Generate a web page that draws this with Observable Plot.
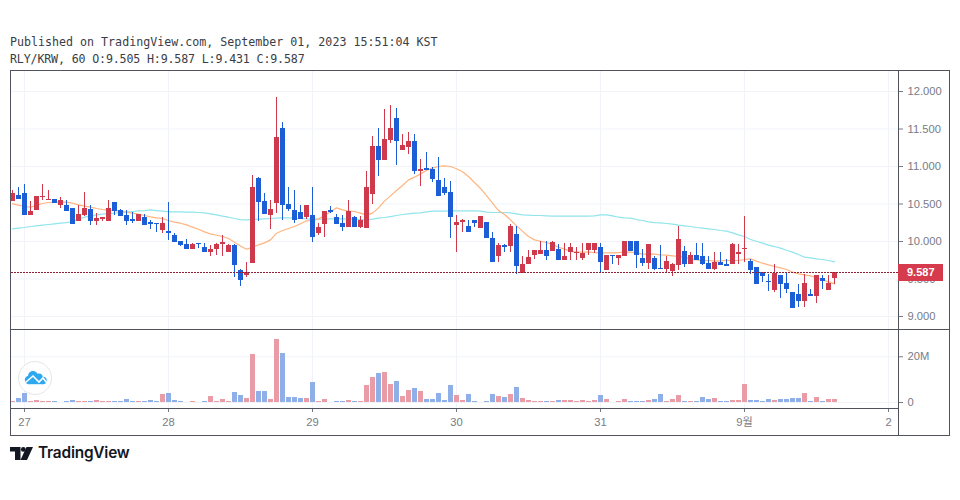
<!DOCTYPE html>
<html><head><meta charset="utf-8">
<script src="https://cdn.jsdelivr.net/npm/d3@7"></script>
<script src="https://cdn.jsdelivr.net/npm/@observablehq/plot@0.6"></script>
<style>
html,body{margin:0;padding:0;background:#fff}
#root{position:relative;width:960px;height:500px;overflow:hidden;background:#fff}
.head{position:absolute;left:10px;font:11.65px/14px "DejaVu Sans Mono",monospace;color:#3a3d45;white-space:pre}
.line{position:absolute;background:#50535e}
#tag{position:absolute;left:898px;width:36px;padding-left:9px;height:17px;background:#d63b4d;color:#fff;font:bold 11px/17px "Liberation Sans",sans-serif}
#brand{position:absolute;left:38px;top:443px;font:600 15.4px/20px Inter,sans-serif;color:#131722;letter-spacing:-.2px}
</style></head><body><div id="root"></div>
<script>
const firstHour = -2;
const opens = [
10.538,10.613,10.64,10.347,10.413,10.587,10.547,10.56,10.48,10.48,
10.44,10.267,10.347,10.427,10.267,10.293,10.267,10.52,10.413,10.347,
10.293,10.267,10.32,10.253,10.24,10.147,10.133,10.08,10.0,9.96,
9.893,9.973,9.92,9.853,9.893,9.96,9.853,9.947,9.613,9.547,
9.707,10.84,10.533,10.347,10.507,11.507,10.493,10.413,10.387,10.32,
10.347,10.107,10.227,10.413,10.32,10.24,10.187,10.32,10.187,10.173,
10.627,11.267,11.08,11.347,11.64,11.213,11.253,11.333,10.933,10.973,
10.96,10.813,10.72,10.653,10.213,10.253,10.2,10.28,10.173,10.253,
10.04,9.8,9.947,9.933,10.093,9.573,9.693,9.813,9.827,9.88,
9.867,9.893,9.747,9.853,9.84,9.773,9.88,9.88,9.92,9.613,
9.813,9.773,9.8,10.0,10.0,9.773,9.707,9.773,9.64,9.627,
9.6,9.68,9.867,9.693,9.813,9.8,9.707,9.627,9.72,9.693,
9.693,9.827,9.893,9.733,9.653,9.587,9.467,9.347,9.547,9.44,
9.32,9.293,9.2,9.293,9.267,9.507,9.347,9.505];
const highs = [
10.68,10.72,10.76,10.533,10.6,10.76,10.68,10.56,10.587,10.547,
10.44,10.48,10.653,10.48,10.373,10.32,10.547,10.52,10.427,10.413,
10.387,10.36,10.36,10.28,10.24,10.32,10.52,10.107,10.0,10.027,
9.973,9.973,9.973,9.947,9.973,10.08,9.96,9.96,9.627,9.72,
10.88,10.853,10.64,10.547,11.92,11.587,10.72,10.68,10.48,10.48,
10.72,10.24,10.4,10.467,10.36,10.347,10.547,10.333,10.333,10.933,
11.4,11.507,11.76,11.813,11.773,11.427,11.453,11.427,11.093,11.187,
10.987,11.12,10.84,10.8,10.347,10.293,10.28,10.28,10.333,10.253,
10.12,9.973,9.96,10.227,10.2,9.8,9.88,9.88,10.0,10.0,
10.0,9.96,9.973,9.973,9.92,9.973,9.973,9.973,9.973,9.813,
9.813,9.813,10.0,10.0,10.0,9.893,9.96,9.8,9.947,9.8,
9.707,10.2,9.933,9.853,9.973,9.973,9.8,9.853,9.853,9.76,
9.973,9.96,10.333,9.76,9.653,9.587,9.56,9.693,9.547,9.587,
9.32,9.427,9.56,9.36,9.547,9.547,9.547,9.587];
const lows = [
10.538,10.56,10.347,10.347,10.413,10.547,10.547,10.507,10.44,10.4,
10.227,10.267,10.333,10.213,10.213,10.267,10.267,10.347,10.333,10.213,
10.24,10.267,10.213,10.16,10.12,10.107,10.013,9.987,9.933,9.893,
9.893,9.907,9.853,9.8,9.813,9.8,9.853,9.52,9.4,9.52,
9.707,10.267,10.36,10.16,10.373,10.28,10.4,10.24,10.293,10.293,
9.987,10.08,10.053,10.373,10.227,10.133,10.187,10.187,10.173,10.173,
10.493,10.867,11.08,11.307,11.013,11.213,11.16,10.893,10.733,10.947,
10.787,10.6,10.613,10.04,9.853,10.12,10.12,10.187,10.173,10.04,
9.72,9.72,9.853,9.853,9.56,9.573,9.693,9.76,9.827,9.747,
9.867,9.747,9.747,9.747,9.747,9.747,9.813,9.84,9.573,9.613,
9.693,9.68,9.8,9.867,9.64,9.667,9.627,9.613,9.627,9.573,
9.533,9.613,9.653,9.693,9.747,9.68,9.627,9.613,9.68,9.667,
9.693,9.693,9.72,9.56,9.427,9.453,9.333,9.32,9.24,9.307,
9.107,9.12,9.12,9.267,9.173,9.36,9.347,9.431];
const closes = [
10.64,10.56,10.347,10.4,10.6,10.6,10.56,10.507,10.547,10.4,
10.227,10.36,10.44,10.267,10.307,10.32,10.44,10.4,10.333,10.267,
10.267,10.36,10.213,10.227,10.227,10.24,10.107,9.987,9.947,9.893,
9.96,9.96,9.853,9.893,9.96,9.987,9.947,9.68,9.48,9.587,
10.72,10.52,10.36,10.427,11.387,10.48,10.427,10.28,10.293,10.48,
10.053,10.187,10.4,10.387,10.227,10.187,10.4,10.187,10.28,10.72,
11.267,11.08,11.36,11.507,11.333,11.28,11.333,10.933,10.96,10.947,
10.827,10.6,10.64,10.32,10.253,10.28,10.12,10.24,10.333,10.04,
9.72,9.947,9.92,10.2,9.667,9.693,9.787,9.88,9.88,9.8,
9.987,9.747,9.8,9.92,9.853,9.84,9.973,9.973,9.72,9.813,
9.8,9.813,10.0,9.867,9.813,9.707,9.96,9.627,9.627,9.733,
9.693,10.027,9.693,9.813,9.747,9.693,9.627,9.72,9.68,9.667,
9.96,9.853,9.907,9.613,9.427,9.533,9.453,9.573,9.427,9.36,
9.107,9.2,9.44,9.267,9.547,9.467,9.44,9.587];
const volumesM = [
.44,1.75,3.9,.44,.88,.44,.44,.44,.1,.44,
.88,.44,.44,.44,.88,.44,.44,.44,.44,1.3,
.44,.44,.44,.88,.44,3.5,3.9,.88,.44,.1,
.44,.1,.44,2.6,.44,1.3,.44,4.4,3.1,1.75,
21,4.8,4.8,1.3,27.6,21.5,2.2,2.2,1.75,1.75,
8.8,.44,1.3,.1,.44,.44,.88,.44,.44,7.4,
11,12.7,13.1,7.9,9.2,2.6,5.3,6.1,4.8,1.3,
1.3,3.9,.88,7.4,3.1,.88,3.5,.44,.1,.44,
3.5,2.6,2.2,3.5,6.6,1.75,.88,.44,.44,.44,
.44,.88,.88,.88,.44,.88,.44,.88,3.1,1.3,
.1,.44,1.3,.44,.44,.44,.88,1.3,3.5,.44,
1.3,3.1,.44,.44,.44,2.2,1.3,1.75,.44,.44,
.88,.88,7.9,.88,.88,.44,1.3,.88,1.3,1.3,
1.75,1.75,3.9,.44,2.2,.44,1.3,1.3];
const fastAvg = [
10.502,10.485,10.467,10.458,10.48,10.507,10.52,10.524,10.524,10.524,
10.511,10.489,10.471,10.458,10.44,10.427,10.418,10.413,10.404,10.391,
10.378,10.364,10.347,10.329,10.316,10.307,10.28,10.258,10.244,10.222,
10.191,10.164,10.129,10.102,10.084,10.067,10.04,9.99,9.94,9.898,
9.924,9.956,9.982,10.022,10.111,10.147,10.173,10.2,10.236,10.276,
10.28,10.302,10.347,10.396,10.449,10.422,10.404,10.4,10.378,10.351,
10.378,10.449,10.538,10.609,10.68,10.747,10.822,10.858,10.902,10.947,
10.982,11.0,11.009,11.0,10.97,10.93,10.867,10.787,10.707,10.613,
10.511,10.413,10.36,10.289,10.209,10.138,10.067,10.022,10.004,9.987,
9.96,9.924,9.898,9.871,9.858,9.858,9.858,9.853,9.849,9.849,
9.849,9.853,9.858,9.858,9.849,9.831,9.831,9.831,9.822,9.818,
9.809,9.8,9.791,9.769,9.756,9.747,9.747,9.738,9.742,9.747,
9.747,9.747,9.76,9.769,9.738,9.711,9.689,9.667,9.649,9.627,
9.591,9.569,9.556,9.542,9.516,9.489,9.462,9.436];
const slowAvg = [
10.169,10.178,10.187,10.2,10.209,10.218,10.227,10.236,10.244,10.253,
10.267,10.298,10.324,10.338,10.356,10.364,10.373,10.378,10.387,10.391,
10.4,10.409,10.413,10.422,10.413,10.404,10.396,10.396,10.396,10.391,
10.391,10.387,10.382,10.369,10.356,10.338,10.324,10.307,10.293,10.289,
10.293,10.298,10.302,10.307,10.311,10.316,10.316,10.311,10.307,10.302,
10.298,10.298,10.298,10.302,10.302,10.302,10.298,10.298,10.293,10.289,
10.298,10.311,10.32,10.333,10.347,10.36,10.369,10.378,10.382,10.396,
10.404,10.404,10.404,10.409,10.409,10.409,10.409,10.409,10.404,10.391,
10.387,10.387,10.387,10.382,10.369,10.356,10.351,10.347,10.347,10.342,
10.338,10.338,10.338,10.338,10.338,10.338,10.338,10.342,10.356,10.356,
10.342,10.324,10.316,10.311,10.293,10.28,10.262,10.253,10.249,10.24,
10.231,10.218,10.209,10.2,10.187,10.178,10.169,10.16,10.147,10.138,
10.116,10.089,10.067,10.027,10.004,9.978,9.951,9.933,9.911,9.884,
9.858,9.827,9.791,9.782,9.769,9.76,9.747,9.729];
const priceTicks = [9,9.5,10,10.5,11,11.5,12];
const volumeTicks = [0,20];
const dayHours = [0,24,48,72,96,120,144];
const dayLabels = ["27","28","29","30","31","9월","2"];
const lastPrice = 9.587;
const headLines = ["Published on TradingView.com, September 01, 2023 15:51:04 KST","RLY/KRW, 60 O:9.505 H:9.587 L:9.431 C:9.587"];

const UP="#ce3a4c", DOWN="#1c5ed6", UPV="#e99ca6", DOWNV="#8fafe9", GRID="#f1f3f8";
const bars = opens.map((o,k)=>({hour:firstHour+k,o,h:highs[k],l:lows[k],c:closes[k],v:volumesM[k],fast:fastAvg[k],slow:slowAvg[k],up:closes[k]>=o}));
const xOpts = {domain:[-13/6,874/6],range:[11,898]};
const font = {fontFamily:'"Liberation Sans",Arial,"Noto Sans CJK KR",sans-serif',fontSize:"11.2px",color:"#787b86",background:"transparent",position:"absolute",left:"0",overflow:"visible"};

const pricePlot = Plot.plot({
  width:960,height:259,marginLeft:11,marginRight:62,marginTop:0,marginBottom:0,
  x:{...xOpts,axis:null},
  y:{domain:[8.827,12.28],range:[259,0]},
  style:{...font,top:"70px"},
  marks:[
    Plot.gridX(dayHours,{stroke:GRID,strokeOpacity:1}),
    Plot.gridY(priceTicks,{stroke:GRID,strokeOpacity:1}),
    Plot.axisY(priceTicks,{anchor:"right",tickFormat:d3.format(".3f"),tickSize:4,tickPadding:5,label:null}),
    Plot.line(bars,{x:"hour",y:"slow",stroke:"#90e4ec",strokeWidth:1.2}),
    Plot.line(bars,{x:"hour",y:"fast",stroke:"#ffb47f",strokeWidth:1.2}),
    Plot.ruleX(bars,{x:"hour",y1:"l",y2:"h",stroke:d=>d.up?UP:DOWN,strokeWidth:1,shapeRendering:"crispEdges"}),
    Plot.ruleX(bars,{x:"hour",y1:"o",y2:"c",stroke:d=>d.up?UP:DOWN,strokeWidth:5,shapeRendering:"crispEdges"}),
    Plot.ruleY([lastPrice],{stroke:"#8f1f36",strokeDasharray:"2,1",strokeWidth:1,shapeRendering:"crispEdges"})
  ]
});

const volumePlot = Plot.plot({
  width:960,height:106,marginLeft:11,marginRight:62,marginTop:0,marginBottom:27,
  x:xOpts,
  y:{domain:[-2.63,31.95],range:[79,0]},
  style:{...font,top:"329px"},
  marks:[
    Plot.gridX(dayHours,{stroke:GRID,strokeOpacity:1}),
    Plot.gridY(volumeTicks,{stroke:GRID,strokeOpacity:1}),
    Plot.axisY(volumeTicks,{anchor:"right",tickFormat:d=>d?d+"M":"0",tickSize:4,tickPadding:5,label:null}),
    Plot.axisX(dayHours,{anchor:"bottom",tickFormat:d=>dayLabels[dayHours.indexOf(d)],tickSize:4,tickPadding:6,label:null}),
    Plot.ruleX(bars,{x:"hour",y1:0,y2:"v",stroke:d=>d.up?UPV:DOWNV,strokeWidth:5,shapeRendering:"crispEdges"})
  ]
});

const root = document.getElementById("root");
root.append(pricePlot,volumePlot);
headLines.forEach((t,k)=>{const d=document.createElement("div");d.className="head";d.style.top=(35+k*17)+"px";d.style.letterSpacing=k?"-.16px":"0";d.textContent=t;root.append(d)});
[[10,70,940,1],[10,329,939,1],[10,408,888,1],[10,435,940,1],[10,70,1,366],[898,70,1,366],[949,70,1,366]].forEach(([l,t,w,h])=>{
  const d=document.createElement("div");d.className="line";
  Object.assign(d.style,{left:l+"px",top:t+"px",width:w+"px",height:h+"px"});root.append(d)});
const tag=document.createElement("div");tag.id="tag";tag.textContent=d3.format(".3f")(lastPrice);
tag.style.top=(70+pricePlot.scale("y").apply(lastPrice)-8)+"px";root.append(tag);

const badge=document.createElement("div");
badge.innerHTML='<svg width="36" height="36" viewBox="0 0 36 36" style="position:absolute;left:17px;top:360px"><circle cx="18" cy="18" r="16.5" fill="#fff" stroke="#e6e6e6" stroke-width="1"/><g fill="#2ea8ee"><circle cx="12" cy="20" r="4.200"/><circle cx="16" cy="16" r="5"/><circle cx="22" cy="17" r="3.600"/><circle cx="26" cy="20.500" r="3.700"/><rect x="12" y="18" width="14" height="6.200"/></g><path d="M8.500 22.500l7.500-6.500l6 6l4-4l3.500 4.500" fill="none" stroke="#fff" stroke-width="1.600"/></svg>'
+'<svg width="23" height="13" viewBox="0 0 23 13" style="position:absolute;left:10px;top:447px"><path d="M0 0H10.500V13H5V4.500H0Z" fill="#131722"/><circle cx="13.300" cy="2.400" r="2.400" fill="#131722"/><path d="M23 0L17 13H10.500L16.500 0Z" fill="#131722"/></svg>'
+'<div id="brand">TradingView</div>';
root.append(badge);
</script></body></html>
